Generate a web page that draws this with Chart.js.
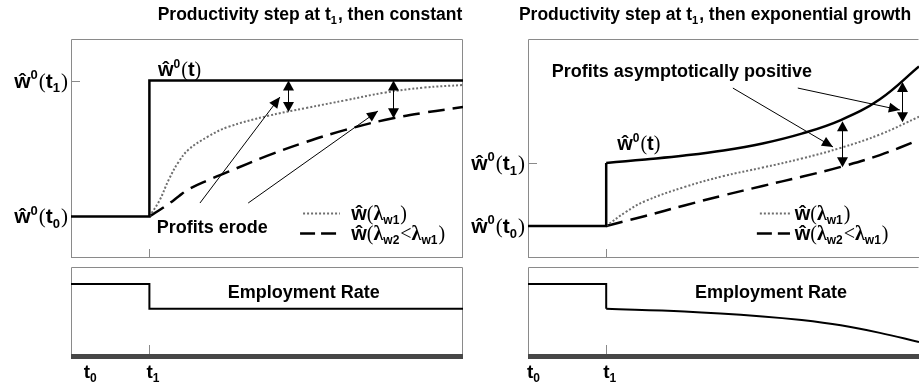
<!DOCTYPE html>
<html>
<head>
<meta charset="utf-8">
<script src="https://cdn.jsdelivr.net/npm/chart.js@4/dist/chart.umd.min.js"></script>
<style>
  html, body { margin: 0; padding: 0; background: #fff; }
  #wrap { position: relative; width: 919px; height: 387px; overflow: hidden; }
  #wrap canvas { position: absolute; left: 0; top: 0; }
</style>
</head>
<body>
<div id="wrap">
  <canvas id="tl" width="919" height="387"></canvas>
  <canvas id="bl" width="919" height="387"></canvas>
  <canvas id="tr" width="919" height="387"></canvas>
  <canvas id="br" width="919" height="387"></canvas>
</div>
<script>
// levels of the productivity path (y in 0..100, x = time in 0..10)
const leftW0 = 19, leftW1 = 81;
const rightW0 = 14.6, rightW1 = 43.4;
const t1 = 2;

// left panel: step then constant
const leftStepX = [0, 2, 2, 10];
const leftStepY = [19, 19, 81, 81];
const leftCurveX = [2, 2.25, 2.5, 2.75, 3, 3.5, 4, 5, 6, 7, 8, 9, 10];
const leftFast = [19, 26, 36, 44, 49.5, 55.5, 59.8, 64.8, 68.5, 72, 75.5, 77.8, 79];
const leftSlow = [19, 21.8, 24.8, 28.2, 31.4, 35.6, 39.3, 46.6, 53, 58.5, 63, 66.3, 68.9];
const leftEmpX = [0, 2, 2, 10];
const leftEmpY = [81, 81, 53, 53];

// right panel: step then exponential growth
const rightStepX = [0, 2, 2];
const rightStepY = [14.6, 14.6, 43.4];
const rightCurveX = [2, 2.5, 3, 4, 5, 6, 7, 8, 9, 10];
const rightProd = [43.4, 44.2, 45, 46.8, 49.1, 52.3, 56.8, 63, 72.5, 87.5];
const rightFast = [14.6, 21, 26, 32.4, 37.4, 41.3, 45.4, 50.3, 56.4, 64.5];
const rightSlow = [14.6, 16.9, 19.2, 24, 28.6, 32.9, 37.1, 41.6, 47, 53.9];
const rightEmpStepX = [0, 2, 2];
const rightEmpStepY = [81, 81, 53];
const rightEmpX = [2, 4, 6, 7, 8, 9, 10];
const rightEmpY = [53, 50, 44.5, 40.4, 34.5, 26, 15.7];

// gap arrows [x, yTop, yBottom] and pointer arrows [x1, y1, x2, y2]
const leftGaps = [[5.54, 81, 66.7], [8.21, 81, 63.8]];
const leftPointers = [[3.29, 25.1, 5.33, 73.5], [4.52, 25.1, 7.83, 67.1]];
const rightGaps = [[8.03, 62.5, 41.4], [9.57, 80.4, 62]];
const rightPointers = [[5.24, 77.6, 7.8, 50.7], [6.9, 77.6, 9.51, 67.6]];

const SANS = '"Liberation Sans", Arial, sans-serif';
const SERIF = '"Liberation Serif", "Times New Roman", serif';

function pts(xs, ys) {
  return xs.map((x, i) => ({ x: x, y: ys[i] }));
}

function fontFor(k, s) {
  if (k === 'sup' || k === 'sub') return 'bold ' + Math.round(s * 0.62) + 'px ' + SANS;
  if (k === 'p') return s + 'px ' + SERIF;
  if (k === 'l') return 'bold ' + s + 'px ' + SERIF;
  return 'bold ' + s + 'px ' + SANS;
}

function richWidth(ctx, parts, s) {
  let w = 0;
  parts.forEach(([t, k]) => {
    ctx.font = fontFor(k, s);
    w += ctx.measureText(t).width + (k === 'sub' || k === 'sup' ? 1 : 0);
  });
  return w;
}

function rich(ctx, x, y, parts, s, align) {
  const w = richWidth(ctx, parts, s);
  if (align === 'right') x -= w;
  if (align === 'center') x -= w / 2;
  ctx.textAlign = 'left';
  ctx.textBaseline = 'alphabetic';
  ctx.fillStyle = '#000';
  parts.forEach(([t, k]) => {
    ctx.font = fontFor(k, s);
    const dy = k === 'sup' ? -s * 0.42 : k === 'sub' ? s * 0.22 : 0;
    ctx.fillText(t, x, y + dy);
    x += ctx.measureText(t).width + (k === 'sub' || k === 'sup' ? 1 : 0);
  });
}

function head(ctx, x1, y1, x2, y2, len, hw) {
  const a = Math.atan2(y2 - y1, x2 - x1);
  const c = Math.cos(a), s = Math.sin(a);
  ctx.beginPath();
  ctx.moveTo(x2, y2);
  ctx.lineTo(x2 - len * c + hw * s, y2 - len * s - hw * c);
  ctx.lineTo(x2 - len * c - hw * s, y2 - len * s + hw * c);
  ctx.closePath();
  ctx.fill();
}

const wHat = (sub) => [['ŵ', 'b'], ['0', 'sup'], ['(', 'p'], ['t', 'b'], [sub, 'sub'], [')', 'p']];
const wPath = [['ŵ', 'b'], ['0', 'sup'], ['(', 'p'], ['t', 'b'], [')', 'p']];
const legendOne = [['ŵ', 'b'], ['(', 'p'], ['λ', 'l'], ['w1', 'sub'], [')', 'p']];
const legendTwo = [['ŵ', 'b'], ['(', 'p'], ['λ', 'l'], ['w2', 'sub'], ['<', 'p'], ['λ', 'l'], ['w1', 'sub'], [')', 'p']];

const sketch = {
  id: 'sketch',
  beforeDatasetsDraw(chart, args, o) {
    const { ctx, chartArea: a, scales: { x, y } } = chart;
    ctx.save();
    ctx.strokeStyle = '#8a8a8a';
    ctx.lineWidth = 1;
    ctx.beginPath();
    ctx.moveTo(a.left + 0.5, a.bottom);
    ctx.lineTo(a.left + 0.5, a.top + 0.5);
    ctx.lineTo(a.right - 0.5, a.top + 0.5);
    if (o.rightFrame) ctx.lineTo(a.right - 0.5, a.bottom);
    if (!o.bar) {
      ctx.moveTo(a.left, a.bottom - 0.5);
      ctx.lineTo(a.right, a.bottom - 0.5);
    }
    // tick marks drawn inside the frame
    (o.yTicks || []).forEach(v => {
      const py = Math.round(y.getPixelForValue(v)) + 0.5;
      ctx.moveTo(a.left, py);
      ctx.lineTo(a.left + 9, py);
    });
    const tb = o.bar ? a.bottom - 2 : a.bottom;
    ctx.moveTo(Math.round(x.getPixelForValue(t1)) + 0.5, tb);
    ctx.lineTo(Math.round(x.getPixelForValue(t1)) + 0.5, tb - 9);
    ctx.stroke();
    if (o.bar) {
      ctx.fillStyle = '#474747';
      ctx.fillRect(a.left, a.bottom - 2, a.right - a.left, 5);
    }
    ctx.restore();
  },
  afterDatasetsDraw(chart, args, o) {
    const { ctx, chartArea: a, scales: { x, y } } = chart;
    ctx.save();
    if (o.title) rich(ctx, o.title.cx, 20, o.title.parts, 17.5, 'center');
    (o.yLabels || []).forEach(([v, sub]) => {
      rich(ctx, a.left - 3, y.getPixelForValue(v) + 7, wHat(sub), 21, 'right');
    });
    (o.xLabels || []).forEach(([v, sub]) => {
      rich(ctx, x.getPixelForValue(v) - 3, 378, [['t', 'b'], [sub, 'sub']], 19, 'left');
    });
    if (o.wLabel) rich(ctx, x.getPixelForValue(o.wLabel[0]), y.getPixelForValue(o.wLabel[1]), wPath, 20, 'left');
    (o.texts || []).forEach(([t, vx, vy]) => {
      ctx.font = 'bold 18px ' + SANS;
      ctx.fillStyle = '#000';
      ctx.textAlign = 'left';
      ctx.textBaseline = 'alphabetic';
      ctx.fillText(t, x.getPixelForValue(vx), y.getPixelForValue(vy));
    });
    ctx.fillStyle = '#000';
    ctx.strokeStyle = '#000';
    ctx.lineWidth = 1;
    (o.pointers || []).forEach(([x1, y1, x2, y2]) => {
      const p1 = [x.getPixelForValue(x1), y.getPixelForValue(y1)];
      const p2 = [x.getPixelForValue(x2), y.getPixelForValue(y2)];
      ctx.beginPath();
      ctx.moveTo(p1[0], p1[1]);
      ctx.lineTo(p2[0], p2[1]);
      ctx.stroke();
      head(ctx, p1[0], p1[1], p2[0], p2[1], 11, 5);
    });
    (o.gaps || []).forEach(([gx, ya, yb]) => {
      const px = Math.round(x.getPixelForValue(gx)) + 0.5;
      const pa = y.getPixelForValue(ya), pb = y.getPixelForValue(yb);
      ctx.beginPath();
      ctx.moveTo(px, pa + 4);
      ctx.lineTo(px, pb - 4);
      ctx.stroke();
      head(ctx, px, pb, px, pa, 10, 5.5);
      head(ctx, px, pa, px, pb, 10, 5.5);
    });
    if (o.legend) {
      const L = o.legend;
      const x0 = x.getPixelForValue(L.x0), x1 = x.getPixelForValue(L.x1);
      const ya = Math.round(y.getPixelForValue(L.y1)) + 0.5;
      const yb = Math.round(y.getPixelForValue(L.y2)) + 0.5;
      ctx.beginPath();
      ctx.strokeStyle = '#6e6e6e';
      ctx.lineWidth = 2;
      ctx.setLineDash([2, 2]);
      ctx.moveTo(x0, ya);
      ctx.lineTo(x1, ya);
      ctx.stroke();
      ctx.beginPath();
      ctx.strokeStyle = '#000';
      ctx.lineWidth = 2.5;
      ctx.setLineDash([15, 6]);
      ctx.moveTo(x0 - 3, yb);
      ctx.lineTo(x1, yb);
      ctx.stroke();
      ctx.setLineDash([]);
      const tx = x.getPixelForValue(L.tx);
      rich(ctx, tx, ya + 6, legendOne, 20, 'left');
      rich(ctx, tx, yb + 6, legendTwo, 20, 'left');
    }
    ctx.restore();
  }
};

const solid = { borderColor: '#000', borderWidth: 2.5 };
const dotted = { borderColor: '#6e6e6e', borderWidth: 2, borderDash: [2, 2], tension: 0.4 };
const dashed = { borderColor: '#000', borderWidth: 2.5, borderDash: [17, 8], tension: 0.4 };
const curve = { borderColor: '#000', borderWidth: 2.5, tension: 0.4 };
const emp = { borderColor: '#000', borderWidth: 2 };

function makeChart(id, padding, datasets, sk) {
  return new Chart(document.getElementById(id), {
    type: 'line',
    data: { datasets: datasets },
    plugins: [sketch],
    options: {
      responsive: false,
      animation: false,
      events: [],
      layout: { padding: padding },
      elements: { point: { radius: 0 }, line: { tension: 0 } },
      scales: {
        x: { type: 'linear', min: 0, max: 10, display: false },
        y: { type: 'linear', min: 0, max: 100, display: false }
      },
      plugins: { legend: { display: false }, tooltip: { enabled: false }, sketch: sk }
    }
  });
}

makeChart('tl', { left: 71, top: 39, right: 456, bottom: 129 }, [
  Object.assign({ data: pts(leftStepX, leftStepY) }, solid),
  Object.assign({ data: pts(leftCurveX, leftFast) }, dotted),
  Object.assign({ data: pts(leftCurveX, leftSlow) }, dashed)
], {
  rightFrame: true,
  title: { cx: 310, parts: [['Productivity step at t', 'b'], ['1', 'sub'], [', then constant', 'b']] },
  yTicks: [leftW0, leftW1],
  yLabels: [[leftW1, '1'], [leftW0, '0']],
  wLabel: [2.22, 83.1],
  texts: [['Profits erode', 2.19, 11.4]],
  pointers: leftPointers,
  gaps: leftGaps,
  legend: { x0: 5.92, x1: 6.86, tx: 7.15, y1: 20.5, y2: 11.4 }
});

makeChart('bl', { left: 71, top: 267, right: 456, bottom: 31 }, [
  Object.assign({ data: pts(leftEmpX, leftEmpY) }, emp)
], {
  rightFrame: true,
  bar: true,
  xLabels: [[0.4, '0'], [2, '1']],
  texts: [['Employment Rate', 4.0, 65.2]]
});

makeChart('tr', { left: 528, top: 39, right: 0, bottom: 129 }, [
  Object.assign({ data: pts(rightStepX, rightStepY) }, solid),
  Object.assign({ data: pts(rightCurveX, rightProd) }, curve),
  Object.assign({ data: pts(rightCurveX, rightFast) }, dotted),
  Object.assign({ data: pts(rightCurveX, rightSlow) }, dashed)
], {
  rightFrame: false,
  title: { cx: 715, parts: [['Productivity step at t', 'b'], ['1', 'sub'], [', then exponential growth', 'b']] },
  yTicks: [rightW0, rightW1],
  yLabels: [[rightW1, '1'], [rightW0, '0']],
  wLabel: [2.28, 49.3],
  texts: [['Profits asymptotically positive', 0.61, 82.6]],
  pointers: rightPointers,
  gaps: rightGaps,
  legend: { x0: 5.93, x1: 6.7, tx: 6.82, y1: 20.5, y2: 11.4 }
});

makeChart('br', { left: 528, top: 267, right: 0, bottom: 31 }, [
  Object.assign({ data: pts(rightEmpStepX, rightEmpStepY) }, emp),
  Object.assign({ data: pts(rightEmpX, rightEmpY), tension: 0.4 }, emp)
], {
  rightFrame: false,
  bar: true,
  xLabels: [[0.05, '0'], [2, '1']],
  texts: [['Employment Rate', 4.27, 65.2]]
});
</script>
</body>
</html>
